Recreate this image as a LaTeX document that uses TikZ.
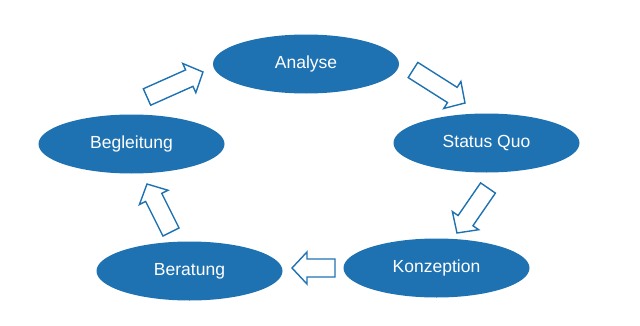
\documentclass[tikz,border=0pt]{standalone}
\usepackage{fontspec}
\setmainfont{Liberation Sans}
\usetikzlibrary{calc}
\definecolor{cycblue}{RGB}{31,114,177}
\tikzset{
  phase/.style={ellipse, fill=cycblue, draw=none, minimum width=186pt, minimum height=59pt,
    inner sep=0pt, text=white, font=\fontsize{17.5}{20}\selectfont},
  arrowline/.style={draw=cycblue, fill=white, line width=1.4pt, line join=miter},
}
\usetikzlibrary{shapes.geometric}
\newcommand\blockarrow[2]{%
  \draw[arrowline] let \p1=(#1), \p2=(#2),
    \n1={atan2(\y2-\y1,\x2-\x1)}, \n2={veclen(\x2-\x1,\y2-\y1)} in
    [shift={(\p1)}, rotate=\n1]
    (0,-9) -- (\n2-15,-9) -- (\n2-15,-16) -- (\n2,0) -- (\n2-15,16) -- (\n2-15,9) -- (0,9) -- cycle;}
\begin{document}
\begin{tikzpicture}[x=1pt,y=1pt]
\useasboundingbox (0,0) rectangle (640,325);
\node[phase] (ana) at (306,261) {Analyse};
\node[phase] (sq)  at (486.5,182) {Status Quo};
\node[phase] (kon) at (436.5,57) {Konzeption};
\node[phase] (ber) at (189.5,54) {Beratung};
\node[phase] (beg) at (131.5,181) {Begleitung};
\coordinate (a1) at (147,228); \coordinate (b1) at (203,253);
\coordinate (a2) at (413,255); \coordinate (b2) at (465,222);
\coordinate (a3) at (488,137); \coordinate (b3) at (457,92);
\coordinate (a4) at (335,57);  \coordinate (b4) at (292,57);
\coordinate (a5) at (171,93);  \coordinate (b5) at (147,141);
\blockarrow{a1}{b1}
\blockarrow{a2}{b2}
\blockarrow{a3}{b3}
\blockarrow{a4}{b4}
\blockarrow{a5}{b5}
\end{tikzpicture}
\end{document}
